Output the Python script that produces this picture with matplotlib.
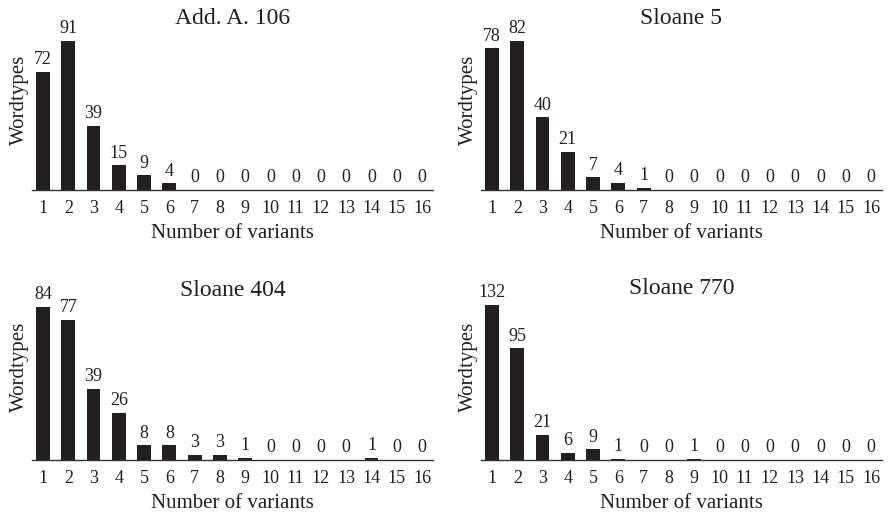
import matplotlib
matplotlib.use("Agg")
import matplotlib.pyplot as plt
import numpy as np

plt.rcParams['font.family'] = ['Liberation Serif', 'DejaVu Serif']

variants = list(range(1, 17))
tick_labels = [str(v) for v in variants]

titles = ["Add. A. 106", "Sloane 5", "Sloane 404", "Sloane 770"]
add_a_106 = [72, 91, 39, 15, 9, 4, 0, 0, 0, 0, 0, 0, 0, 0, 0, 0]
sloane_5 = [78, 82, 40, 21, 7, 4, 1, 0, 0, 0, 0, 0, 0, 0, 0, 0]
sloane_404 = [84, 77, 39, 26, 8, 8, 3, 3, 1, 0, 0, 0, 0, 1, 0, 0]
sloane_770 = [132, 95, 21, 6, 9, 1, 0, 0, 1, 0, 0, 0, 0, 0, 0, 0]
series = [add_a_106, sloane_5, sloane_404, sloane_770]

W, H = 889, 516
fig = plt.figure(figsize=(W / 100, H / 100), dpi=100)

# axes boxes in pixels: (left, right, bottom_y, top_y)
boxes = [(32, 433, 190, 10), (481, 882, 190, 10),
         (32, 433, 460, 274), (481, 882, 460, 274)]
max_px = [149, 149, 153, 155]
title_y_px = [19, 19, 290, 289]
bar_color = "#231f20"

for i, (vals, title, box) in enumerate(zip(series, titles, boxes)):
    l, r, b, t = box
    ax = fig.add_axes([l / W, 1 - b / H, (r - l) / W, (b - t) / H])
    ax.bar(variants, vals, width=0.55, color=bar_color)
    ax.set_xlim(0.565, 16.435)
    k = (b - t) / max_px[i]
    ax.set_ylim(0, max(vals) * k)
    for x, v in zip(variants, vals):
        ax.text(x, v + max(vals) * 0.025, str(v), ha='center', va='bottom',
                fontsize=13, color="#231f20")
    for s in ['top', 'right', 'left']:
        ax.spines[s].set_visible(False)
    ax.spines['bottom'].set_color("#333333")
    ax.spines['bottom'].set_linewidth(1.0)
    ax.set_yticks([])
    ax.set_xticks(variants)
    ax.set_xticklabels(tick_labels, fontsize=13, color="#231f20")
    ax.tick_params(axis='x', length=0, pad=7)
    ax.set_xlabel("Number of variants", fontsize=15, color="#231f20", labelpad=5)
    ax.set_ylabel("Wordtypes", fontsize=15, color="#231f20", labelpad=2)
    ty = (b - title_y_px[i]) / (b - t)
    ax.text(0.5, ty, title, transform=ax.transAxes, ha='center', va='center',
            fontsize=17, color="#231f20")

fig.savefig("out.png", dpi=100)
